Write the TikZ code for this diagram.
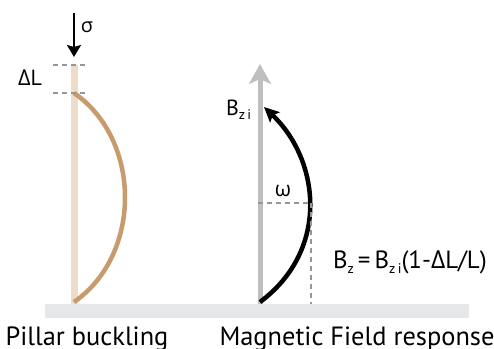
\documentclass[tikz,border=0pt]{standalone}
\usepackage{fontspec}
\setmainfont{PT Sans}
\newfontfamily\greekfont{Open Sans}
\usetikzlibrary{arrows.meta,positioning}

\definecolor{tanlight}{RGB}{237,220,200}
\definecolor{tandark}{RGB}{200,155,108}
\definecolor{groundgray}{RGB}{230,231,232}
\definecolor{fieldgray}{RGB}{190,191,193}
\definecolor{guidegray}{RGB}{150,150,150}

\newcommand\idx[1]{\raisebox{-0.45ex}{\fontsize{14}{14}\selectfont #1}}
\newcommand\gr[1]{{\greekfont #1}}

\begin{document}
\begin{tikzpicture}[
  x=1bp, y=-1bp,
  every node/.style={inner sep=0pt, outer sep=0pt},
  guide/.style={guidegray, line width=1.2bp, dash pattern=on 5bp off 4bp},
  pillar/.style={tanlight, line width=7bp},
  bent/.style={tandark, line width=4.5bp},
  field/.style={fieldgray, line width=5bp,
                -{Stealth[length=20bp, width=22bp, inset=5bp]}},
  response/.style={black, line width=4.5bp,
                   -{Stealth[length=15bp, width=14bp, inset=3bp]}},
  big/.style={font=\fontsize{26.5}{30}\selectfont},
  mid/.style={font=\fontsize{22}{24}\selectfont},
]
\useasboundingbox (0,0) rectangle (494,348);

% ground
\fill[groundgray] (45,304) rectangle (469,318);

% pillar (left)
\coordinate (ptop)  at (74,65);
\coordinate (pmid)  at (74,93);
\coordinate (pbase) at (74,304);
\coordinate (pfoot) at (74,302);
\draw[pillar] (ptop) -- (pbase);
\draw[bent] (pmid) .. controls (142,140) and (142,255) .. (pfoot);

% length change
\coordinate (dl1a) at (53,65); \coordinate (dl1b) at (89,65);
\coordinate (dl2a) at (53,93); \coordinate (dl2b) at (89,93);
\draw[guide] (dl1a) -- (dl1b);
\draw[guide] (dl2a) -- (dl2b);
\node[mid] (dL) at (30,78) {\gr{Δ}L};

% load
\coordinate (ltop) at (74,13);
\coordinate (lend) at (74,57);
\draw[black, line width=2bp, -{Stealth[length=12bp, width=14bp, inset=2bp]}]
  (ltop) -- (lend);
\node[font=\fontsize{20}{22}\selectfont] (sigma) at (87,27) {\gr{σ}};

% field (right)
\coordinate (fbase) at (260,304);
\coordinate (ftip)  at (260,64);
\draw[field] (fbase) -- (ftip);
\node[mid, anchor=base west] (Bzi) at (226,115) {B\idx{z\,i}};

\coordinate (rfoot) at (260,302);
\coordinate (rtip)  at (264,107);
\draw[response] (rfoot) .. controls (330,250) and (320,160) .. (rtip);

% angle
\coordinate (wa) at (258,203);
\coordinate (wb) at (311,203);
\coordinate (wc) at (311,304);
\draw[guide] (wa) -- (wb);
\draw[guide] (wb) -- (wc);
\node[font=\fontsize{21}{22}\selectfont] (omega) at (283,191) {\gr{ω}};

% relation
\node[font=\fontsize{25}{26}\selectfont, anchor=base west] (rel) at (333,268)
  {B\idx{z}\,=\,B\idx{z\,i}(1-\gr{Δ}L/L)};

% captions
\node[big, anchor=base] (cap1) at (87,345) {Pillar buckling};
\node[big, anchor=base] (cap2) at (357,345) {Magnetic Field response};
\end{tikzpicture}
\end{document}
